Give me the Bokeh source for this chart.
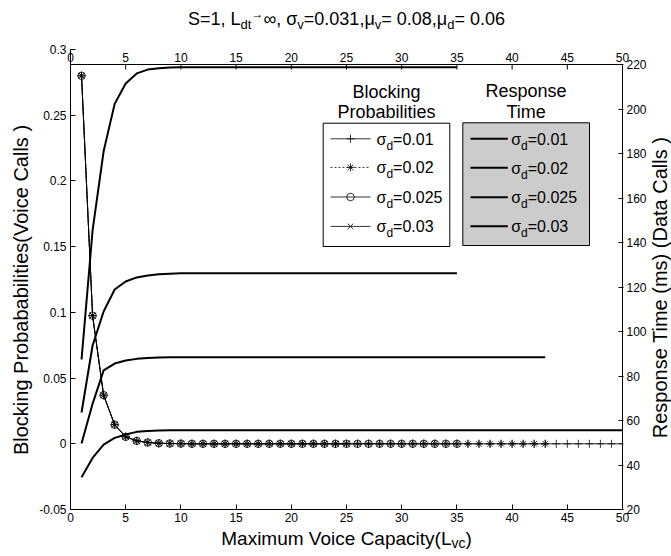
import math
import glob
from bokeh.plotting import figure
from bokeh.layouts import row, column
from bokeh.models import Range1d, LinearAxis, FixedTicker, Label
from bokeh.embed import file_html
from bokeh.resources import INLINE

# ---------------- data ----------------
x_ticks = [0, 5, 10, 15, 20, 25, 30, 35, 40, 45, 50]
x_tick_labels = ["0", "5", "10", "15", "20", "25", "30", "35", "40", "45", "50"]
left_ticks = [-0.05, 0, 0.05, 0.1, 0.15, 0.2, 0.25, 0.3]
left_tick_labels = ["-0.05", "0", "0.05", "0.1", "0.15", "0.2", "0.25", "0.3"]
right_ticks = [20, 40, 60, 80, 100, 120, 140, 160, 180, 200, 220]
sigma_d_labels = ["0.01", "0.02", "0.025", "0.03"]

capacity = list(range(1, 51))

# Blocking probabilities (voice calls), left axis
bp_sd001 = [0.28, 0.0975, 0.037, 0.0145, 0.0053, 0.0022, 0.001, 0.0004, 0.0002, 0.0001,
            0, 0, 0, 0, 0, 0, 0, 0, 0, 0,
            0, 0, 0, 0, 0, 0, 0, 0, 0, 0,
            0, 0, 0, 0, 0, 0, 0, 0, 0, 0,
            0, 0, 0, 0, 0, 0, 0, 0, 0, 0]
bp_sd002 = [0.28, 0.0975, 0.037, 0.0145, 0.0053, 0.0022, 0.001, 0.0004, 0.0002, 0.0001,
            0, 0, 0, 0, 0, 0, 0, 0, 0, 0,
            0, 0, 0, 0, 0, 0, 0, 0, 0, 0,
            0, 0, 0, 0, 0, 0, 0, 0, 0, 0,
            0, 0, 0]
bp_sd0025 = [0.28, 0.0975, 0.037, 0.0145, 0.0053, 0.0022, 0.001, 0.0004, 0.0002, 0.0001,
             0, 0, 0, 0, 0, 0, 0, 0, 0, 0,
             0, 0, 0, 0, 0, 0, 0, 0, 0, 0,
             0, 0, 0, 0, 0]
bp_sd003 = [0.28, 0.0975, 0.037, 0.0145, 0.0053, 0.0022, 0.001, 0.0004, 0.0002, 0.0001,
            0, 0, 0, 0, 0, 0, 0, 0, 0, 0,
            0, 0, 0, 0, 0]

# Response time (ms) (data calls), right axis
rt_curve1 = [87.4, 145.4, 181.0, 202.3, 211.5, 216.0, 217.7, 218.3, 218.6, 218.8,
             218.8, 218.8, 218.8, 218.8, 218.8, 218.8, 218.8, 218.8, 218.8, 218.8,
             218.8, 218.8, 218.8, 218.8, 218.8, 218.8, 218.8, 218.8, 218.8, 218.8,
             218.8, 218.8, 218.8, 218.8, 218.8]
rt_curve2 = [63.6, 93.7, 109.0, 118.9, 122.5, 124.3, 125.2, 125.7, 126.0, 126.2,
             126.2, 126.2, 126.2, 126.2, 126.2, 126.2, 126.2, 126.2, 126.2, 126.2,
             126.2, 126.2, 126.2, 126.2, 126.2, 126.2, 126.2, 126.2, 126.2, 126.2,
             126.2, 126.2, 126.2, 126.2, 126.2]
rt_curve3 = [49.7, 67.5, 82.5, 85.6, 87.0, 87.7, 88.1, 88.3, 88.4, 88.4,
             88.4, 88.4, 88.4, 88.4, 88.4, 88.4, 88.4, 88.4, 88.4, 88.4,
             88.4, 88.4, 88.4, 88.4, 88.4, 88.4, 88.4, 88.4, 88.4, 88.4,
             88.4, 88.4, 88.4, 88.4, 88.4, 88.4, 88.4, 88.4, 88.4, 88.4,
             88.4, 88.4, 88.4]
rt_curve4 = [34.5, 43.2, 49.2, 52.2, 53.7, 54.9, 55.3, 55.5, 55.6, 55.6,
             55.6, 55.6, 55.6, 55.6, 55.6, 55.6, 55.6, 55.6, 55.6, 55.6,
             55.6, 55.6, 55.6, 55.6, 55.6, 55.6, 55.6, 55.6, 55.6, 55.6,
             55.6, 55.6, 55.6, 55.6, 55.6, 55.6, 55.6, 55.6, 55.6, 55.6,
             55.6, 55.6, 55.6, 55.6, 55.6, 55.6, 55.6, 55.6, 55.6, 55.6]

# ---------------- text measuring ----------------
FONT = "Liberation Sans"
_font_path = None
for pat in ["/usr/share/fonts/**/LiberationSans-Regular.ttf",
            "/usr/local/share/fonts/**/LiberationSans-Regular.ttf"]:
    found = glob.glob(pat, recursive=True)
    if found:
        _font_path = found[0]
        break

_W = {' ': 278, '(': 333, ')': 333, ',': 278, '-': 333, '.': 278, '=': 584,
      'B': 667, 'C': 722, 'D': 722, 'L': 556, 'M': 833, 'P': 667, 'R': 722,
      'S': 667, 'T': 611, 'V': 667, 'a': 556, 'b': 556, 'c': 500, 'd': 556,
      'e': 556, 'g': 556, 'i': 222, 'k': 500, 'l': 222, 'm': 833, 'n': 556,
      'o': 556, 'p': 556, 'r': 333, 's': 500, 't': 278, 'u': 556, 'v': 500,
      'x': 500, 'y': 500, 'σ': 600, 'μ': 576, '∞': 713, '→': 1000}


def text_width(s, size):
    if _font_path:
        try:
            from PIL import ImageFont
            return ImageFont.truetype(_font_path, int(size)).getlength(s)
        except Exception:
            pass
    return sum(_W.get(c, 556) for c in s) * size / 1000.0


def rich_width(pieces):
    return sum(text_width(pc[0], pc[1]) for pc in pieces)


BASE_SHIFT = 0.33   # labels sit this many em lower than the requested baseline

# ---------------- page layout (pixels) ----------------
W, H = 671, 556
LEFT_W, RIGHT_W = 34, 23
MID_W = W - LEFT_W - RIGHT_W          # 614
TITLE_H, BOTTOM_H = 40, 30
FRAME_L, FRAME_T = 70, 49             # page position of the main frame
FW, FH = 553, 460
PX_PER_X = 552 / 50.0


def dx(px):
    return (px - FRAME_L) / PX_PER_X


def dy(py):
    return 0.3 - (py - FRAME_T) * 0.35 / 460.0


RIGHT_PX = 445 / 200.0
right_top = 20 + FH / RIGHT_PX

# ---------------- main figure ----------------
p = figure(frame_width=FW, frame_height=FH,
           x_range=Range1d(0, FW / PX_PER_X), y_range=Range1d(-0.05, 0.3),
           output_backend="svg", toolbar_location=None, title=None,
           min_border_left=FRAME_L - LEFT_W, min_border_right=MID_W - (FRAME_L - LEFT_W) - FW,
           min_border_top=FRAME_T - TITLE_H,
           min_border_bottom=H - TITLE_H - BOTTOM_H - (FRAME_T - TITLE_H) - FH,
           background_fill_color="white", border_fill_color="white")
p.outline_line_color = None
p.xgrid.visible = False
p.ygrid.visible = False
p.extra_y_ranges = {"right": Range1d(20, right_top)}

for ax in (p.xaxis[0], p.yaxis[0]):
    ax.axis_line_color = "black"
    ax.axis_line_width = 1
    ax.major_tick_line_color = "black"
    ax.major_tick_in = 5
    ax.major_tick_out = 0
    ax.minor_tick_line_color = None
    ax.major_label_text_font = FONT
    ax.major_label_text_font_size = "12px"
    ax.major_label_text_color = "black"

p.xaxis[0].ticker = FixedTicker(ticks=x_ticks)
p.xaxis[0].major_label_overrides = {t: s for t, s in zip(x_ticks, x_tick_labels)}
p.xaxis[0].major_label_standoff = 3
p.yaxis[0].ticker = FixedTicker(ticks=left_ticks)
p.yaxis[0].major_label_overrides = {t: s for t, s in zip(left_ticks, left_tick_labels)}
p.yaxis[0].major_label_standoff = 4

ra = LinearAxis(y_range_name="right", ticker=FixedTicker(ticks=right_ticks),
                axis_line_color=None, major_tick_line_color="black",
                major_tick_in=5, major_tick_out=0, minor_tick_line_color=None,
                major_label_text_font=FONT, major_label_text_font_size="12px",
                major_label_text_color="black", major_label_standoff=3)
p.add_layout(ra, "right")

# top axis of the response-time box: labels pulled down inside (box top lies 15px lower)
ta = LinearAxis(ticker=FixedTicker(ticks=x_ticks),
                major_label_overrides={t: s for t, s in zip(x_ticks, x_tick_labels)},
                axis_line_color=None, major_tick_line_color=None, minor_tick_line_color=None,
                major_label_text_font=FONT, major_label_text_font_size="12px",
                major_label_text_color="black", major_label_standoff=-18)
p.add_layout(ta, "above")

# box of the second (response-time) axes: top and right borders, top ticks
p.segment(x0=[0], y0=[220], x1=[50], y1=[220], y_range_name="right",
          line_color="black", line_width=1)
p.segment(x0=[50], y0=[20], x1=[50], y1=[220], y_range_name="right",
          line_color="black", line_width=1)
tick_len = 5 / RIGHT_PX
p.segment(x0=x_ticks, y0=[220] * len(x_ticks), x1=x_ticks,
          y1=[220 - tick_len] * len(x_ticks), y_range_name="right",
          line_color="black", line_width=1)


def add_text(px, py, s, size, align="left"):
    py = py - BASE_SHIFT * size
    p.add_layout(Label(x=dx(px), y=dy(py), text=s, text_font=FONT,
                       text_font_size=f"{size}px", text_color="black",
                       text_align=align, text_baseline="alphabetic"))


def add_rich(px_start, py_base, pieces):
    x = px_start
    for s, size, off in pieces:
        add_text(x, py_base + off, s, size)
        x += text_width(s, size)


# ---------------- response time curves ----------------
for curve in (rt_curve1, rt_curve2, rt_curve3, rt_curve4):
    p.line(capacity[:len(curve)], curve, y_range_name="right",
           line_color="black", line_width=2)

# ---------------- blocking probability curves ----------------
series = [(bp_sd001, "cross", "solid"), (bp_sd002, "asterisk", "2 2"),
          (bp_sd0025, "circle", "solid"), (bp_sd003, "x", "solid")]
for vals, marker, dash in series:
    xs = capacity[:len(vals)]
    p.line(xs, vals, line_color="black", line_width=0.8, line_dash=dash)
    p.scatter(xs, vals, marker=marker, size=7.5 if marker == "circle" else 8,
              line_color="black", fill_color=None, line_width=0.8)

# ---------------- legend: Blocking Probabilities ----------------
add_text(386, 97, "Blocking", 18, align="center")
add_text(386, 117, "Probabilities", 18, align="center")
p.quad(left=[dx(322.7)], right=[dx(449.3)], top=[dy(122.7)], bottom=[dy(246)],
       fill_color="white", line_color="black", line_width=1)
leg_rows = [138.3, 166.9, 196.5, 225.9]
for (vals, marker, dash), r, lab in zip(series, leg_rows, sigma_d_labels):
    p.line([dx(330), dx(370)], [dy(r), dy(r)], line_color="black",
           line_width=0.8, line_dash=dash)
    p.scatter([dx(350)], [dy(r)], marker=marker, size=7.5 if marker == "circle" else 8,
              line_color="black", fill_color=None, line_width=0.8)
    add_rich(376, r + 5.5, [("σ", 16, 0), ("d", 12, 5.5), ("=" + lab, 16, 0)])

# ---------------- legend: Response Time ----------------
add_text(525.6, 96.5, "Response", 18, align="center")
add_text(525.6, 117.3, "Time", 18, align="center")
p.quad(left=[dx(462.3)], right=[dx(589)], top=[dy(122.3)], bottom=[dy(245)],
       fill_color="#cccccc", line_color="black", line_width=1)
leg2_rows = [138.3, 167.3, 196.7, 225.7]
for r, lab in zip(leg2_rows, sigma_d_labels):
    p.line([dx(470), dx(507.3)], [dy(r), dy(r)], line_color="black", line_width=2)
    add_rich(510.7, r + 5.5, [("σ", 16, 0), ("d", 12, 5.5), ("=" + lab, 16, 0)])


# ---------------- text strips around the main figure ----------------
def strip(w, h):
    f = figure(width=w, height=h, x_range=Range1d(0, w), y_range=Range1d(0, h),
               output_backend="svg", toolbar_location=None, title=None,
               x_axis_type=None, y_axis_type=None,
               min_border=0, min_border_left=0, min_border_right=0,
               min_border_top=0, min_border_bottom=0,
               background_fill_color="white", border_fill_color="white")
    f.outline_line_color = None
    return f


def strip_text(f, x0, y0, h, px, py, s, size, align="left", baseline="alphabetic", angle=0.0):
    if baseline == "alphabetic":
        py = py - BASE_SHIFT * size
    f.add_layout(Label(x=px - x0, y=(y0 + h) - py, x_units="screen", y_units="screen",
                       text=s, text_font=FONT, text_font_size=f"{size}px",
                       text_color="black", text_align=align, text_baseline=baseline,
                       angle=angle, angle_units="rad"))


def strip_rich(f, x0, y0, h, px_start, py_base, pieces):
    # piece: (text, size, baseline offset, anchor); "right" pieces end exactly where the next begins
    x = px_start
    for s, size, off, anchor in pieces:
        x_next = x + text_width(s, size)
        if anchor == "right":
            strip_text(f, x0, y0, h, x_next, py_base + off, s, size, align="right")
        else:
            strip_text(f, x0, y0, h, x, py_base + off, s, size)
        x = x_next


# strips stacked with the main figure get their frame aligned to it (page x 70..623)
title_strip = strip(MID_W, TITLE_H)
title_pieces = [("S=1, L", 18, 0, "left"), ("dt", 13, 4.5, "left"), ("→", 12, -7, "left"),
                (" ∞,", 18, 0, "right"), ("σ", 18, 0, "left"), ("v", 13, 4.5, "left"),
                ("=0.031,", 18, 0, "left"), ("μ", 18, 0, "right"), ("v", 13, 4.5, "left"),
                ("= 0.08,", 18, 0, "left"), ("μ", 18, 0, "right"), ("d", 13, 4.5, "left"),
                ("= 0.06", 18, 0, "left")]
strip_rich(title_strip, FRAME_L, 0, TITLE_H, 346 - rich_width(title_pieces) / 2, 24,
           title_pieces)

bottom_strip = strip(MID_W, BOTTOM_H)
BOT_Y0 = H - BOTTOM_H
xlab_pieces = [("Maximum Voice Capacity(L", 19, 0, "left"), ("vc", 14, 3.2, "left"),
               (")", 19, 0, "left")]
strip_rich(bottom_strip, FRAME_L, BOT_Y0, BOTTOM_H, 346 - rich_width(xlab_pieces) / 2,
           544.3, xlab_pieces)

left_strip = strip(LEFT_W, H)
strip_text(left_strip, 0, 0, H, 20, 289.5, "Blocking Probababilities(Voice Calls )", 20,
           align="center", baseline="middle", angle=math.pi / 2)

right_strip = strip(RIGHT_W, H)
strip_text(right_strip, W - RIGHT_W, 0, H, 658, 287, "Response Time (ms) (Data Calls )", 20,
           align="center", baseline="middle", angle=math.pi / 2)

layout = row(left_strip, column(title_strip, p, bottom_strip), right_strip)

open("out.html", "w").write(file_html(layout, INLINE))
